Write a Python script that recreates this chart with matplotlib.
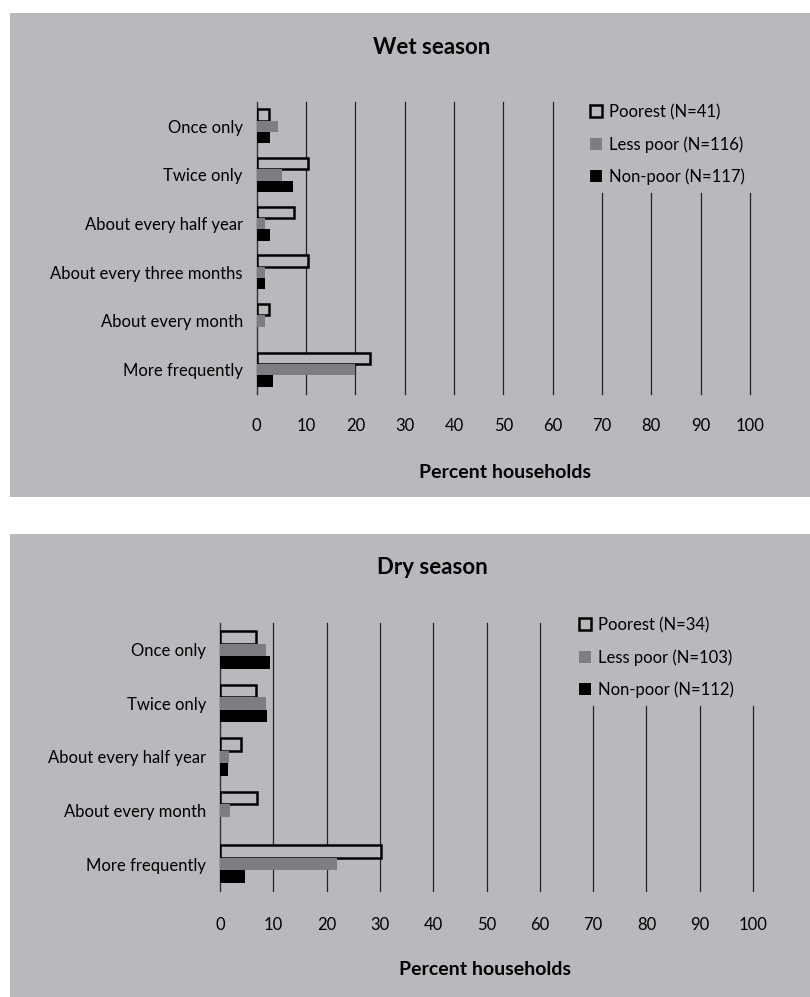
import matplotlib.pyplot as plt
from matplotlib.patches import Rectangle, Patch
import numpy as np

plt.rcParams['font.family'] = ['Lato', 'DejaVu Sans']

# data
wet_categories = ["Once only", "Twice only", "About every half year",
                  "About every three months", "About every month", "More frequently"]
wet_poorest = [2.4, 10.5, 7.6, 10.5, 2.4, 23.0]
wet_less_poor = [4.3, 5.1, 1.7, 1.7, 1.7, 20.0]
wet_non_poor = [2.6, 7.3, 2.6, 1.7, 0.0, 3.4]
wet_labels = ["Poorest (N=41)", "Less poor (N=116)", "Non-poor (N=117)"]

dry_categories = ["Once only", "Twice only", "About every half year",
                  "About every month", "More frequently"]
dry_poorest = [6.7, 6.7, 3.9, 7.0, 30.3]
dry_less_poor = [8.7, 8.7, 1.6, 1.9, 22.0]
dry_non_poor = [9.3, 8.9, 1.5, 0.0, 4.6]
dry_labels = ["Poorest (N=34)", "Less poor (N=103)", "Non-poor (N=112)"]

xticks = list(range(0, 101, 10))

BG = '#b8b9bc'
MID = '#7d7e82'
W, H = 810, 997
FS = 12

fig = plt.figure(figsize=(W / 100, H / 100), dpi=100)
fig.patch.set_facecolor('white')


def fx(px):
    return px / W


def fy(py):
    return 1 - py / H


# gray panels
fig.patches.append(Rectangle((fx(10), fy(497)), fx(800), (497 - 13) / H,
                             transform=fig.transFigure, facecolor=BG, edgecolor='none', zorder=-10))
fig.patches.append(Rectangle((fx(10), 0), fx(800), (997 - 534) / H,
                             transform=fig.transFigure, facecolor=BG, edgecolor='none', zorder=-10))


def panel(box, cats, poorest, less, non, labels, title, title_y, xlab_x, xlab_y,
          leg_xy, grid_top, xpad):
    ax = fig.add_axes(box)
    ax.set_zorder(1)
    ax.set_facecolor('none')
    n = len(cats)
    y = np.arange(n)
    h = 0.235
    ax.barh(y - h, poorest, height=h, color=BG, edgecolor='black', linewidth=1.8, zorder=3)
    ax.barh(y, less, height=h, color=MID, edgecolor='none', zorder=3)
    ax.barh(y + h, non, height=h, color='black', edgecolor='none', zorder=3)
    ax.set_ylim(n - 0.5, -0.5)
    ax.set_xlim(0, 100)
    # gridlines to the right of the legend start lower
    for v in xticks[1:]:
        top = grid_top if v >= 70 else 1.0
        ax.axvline(v, ymin=0, ymax=top, color='#222222', linewidth=0.9, zorder=1,
                   clip_on=False)
    for s in ['top', 'right', 'bottom']:
        ax.spines[s].set_visible(False)
    ax.spines['left'].set_color('#333333')
    ax.spines['left'].set_linewidth(1.0)
    ax.set_xticks(xticks)
    ax.set_xticklabels([str(v) for v in xticks], fontsize=FS)
    ax.tick_params(axis='x', length=0, pad=xpad)
    ax.set_yticks(y)
    ax.set_yticklabels(cats, fontsize=FS)
    ax.tick_params(axis='y', length=0, pad=10)
    fig.text(fx(432), fy(title_y), title, ha='center', va='center',
             fontsize=16, fontweight='bold')
    fig.text(fx(xlab_x), fy(xlab_y), "Percent households",
             ha='center', va='center', fontsize=14, fontweight='bold')
    handles = [Patch(facecolor=BG, edgecolor='black', linewidth=1.8),
               Patch(facecolor=MID, edgecolor='none'),
               Patch(facecolor='black', edgecolor='none')]
    fig.legend(handles, labels, loc='upper left',
               bbox_to_anchor=(fx(leg_xy[0]), fy(leg_xy[1])),
               frameon=False, fontsize=FS, handlelength=0.7, handleheight=0.7,
               handletextpad=0.45, labelspacing=0.95, borderpad=0, borderaxespad=0)
    return ax


panel([fx(256.7), fy(394), fx(750 - 256.7), (394 - 102) / H],
      wet_categories, wet_poorest, wet_less_poor, wet_non_poor, wet_labels,
      "Wet season", 48, 505, 473, (590, 104), 0.69, 17)

panel([fx(220), fy(891), fx(753 - 220), (891 - 623) / H],
      dry_categories, dry_poorest, dry_less_poor, dry_non_poor, dry_labels,
      "Dry season", 568, 485, 969, (579, 617), 0.69, 19)

fig.savefig('out.png', dpi=100, facecolor='white')
